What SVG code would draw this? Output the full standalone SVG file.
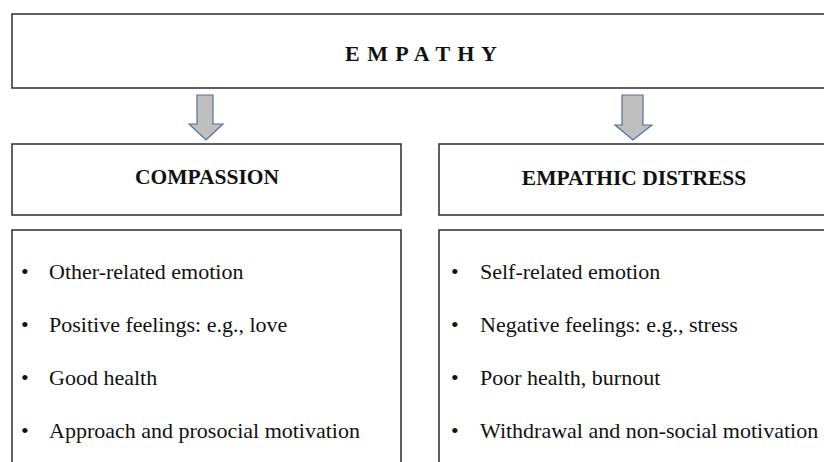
<svg xmlns="http://www.w3.org/2000/svg" width="824" height="462" viewBox="0 0 824 462">
<style>
.box{fill:#fff;stroke:#2b2b2b;stroke-width:1.5}
.arrow{fill:#bfbfbf;stroke:#52709a;stroke-width:1.2;stroke-linejoin:miter}
</style>
<rect width="824" height="462" fill="#fff"/>
<g id="empathy">
<rect class="box" x="12" y="14" width="820" height="74"/>
<text x="345" y="61" font-family="Liberation Serif" font-size="22" font-weight="bold" fill="#111" textLength="152" lengthAdjust="spacing">E M P A T H Y</text>
</g>
<g id="connectors">
<path class="arrow" d="M197,95 H213 V124 H223 L206,140 L189,124 H197 Z"/>
<path class="arrow" d="M622,95 H643 V125 H652 L633,140 L615,125 H622 Z"/>
</g>
<g id="compassion">
<rect class="box" x="12" y="144" width="389" height="71"/>
<text x="207" y="184" font-family="Liberation Serif" font-size="21.5" font-weight="bold" fill="#111" text-anchor="middle">COMPASSION</text>
</g>
<g id="empathic-distress">
<rect class="box" x="439" y="144" width="390" height="71"/>
<text x="634" y="185" font-family="Liberation Serif" font-size="21.5" font-weight="bold" fill="#111" text-anchor="middle">EMPATHIC DISTRESS</text>
</g>
<g id="compassion-list">
<rect class="box" x="12" y="230" width="389" height="250"/>
<text x="21" y="279" font-family="Liberation Serif" font-size="22" fill="#111">•</text>
<text x="49" y="279" font-family="Liberation Serif" font-size="22" fill="#111">Other-related emotion</text>
<text x="21" y="332" font-family="Liberation Serif" font-size="22" fill="#111">•</text>
<text x="49" y="332" font-family="Liberation Serif" font-size="22" fill="#111">Positive feelings: e.g., love</text>
<text x="21" y="385" font-family="Liberation Serif" font-size="22" fill="#111">•</text>
<text x="49" y="385" font-family="Liberation Serif" font-size="22" fill="#111">Good health</text>
<text x="21" y="438" font-family="Liberation Serif" font-size="22" fill="#111">•</text>
<text x="49" y="438" font-family="Liberation Serif" font-size="22" fill="#111">Approach and prosocial motivation</text>
</g>
<g id="distress-list">
<rect class="box" x="439" y="230" width="390" height="250"/>
<text x="451" y="279" font-family="Liberation Serif" font-size="22" fill="#111">•</text>
<text x="480" y="279" font-family="Liberation Serif" font-size="22" fill="#111">Self-related emotion</text>
<text x="451" y="332" font-family="Liberation Serif" font-size="22" fill="#111">•</text>
<text x="480" y="332" font-family="Liberation Serif" font-size="22" fill="#111">Negative feelings: e.g., stress</text>
<text x="451" y="385" font-family="Liberation Serif" font-size="22" fill="#111">•</text>
<text x="480" y="385" font-family="Liberation Serif" font-size="22" fill="#111">Poor health, burnout</text>
<text x="451" y="438" font-family="Liberation Serif" font-size="22" fill="#111">•</text>
<text x="480" y="438" font-family="Liberation Serif" font-size="22" fill="#111">Withdrawal and non-social motivation</text>
</g>
</svg>
